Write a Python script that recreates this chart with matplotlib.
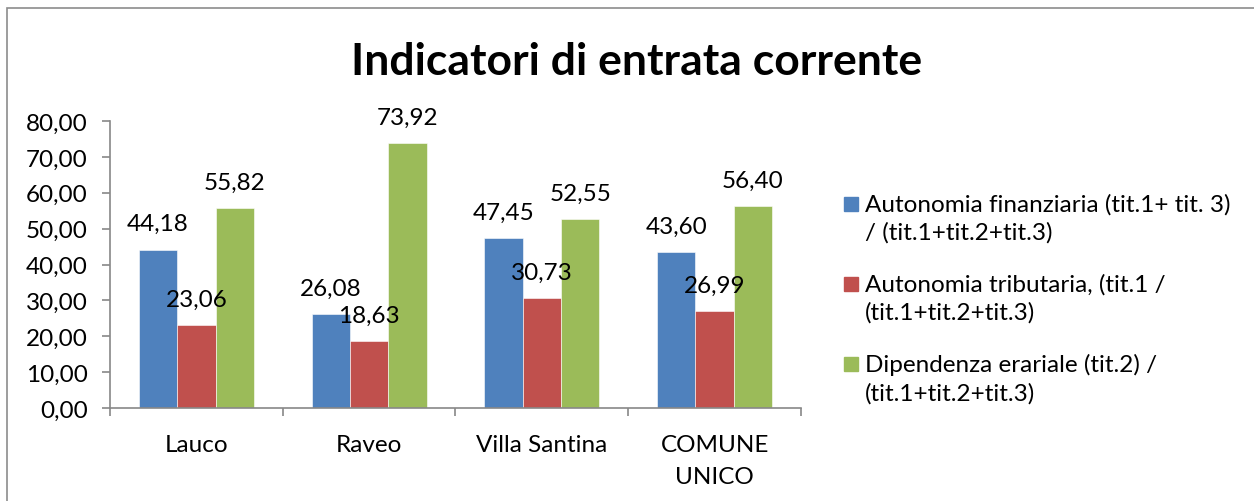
import matplotlib.pyplot as plt
from matplotlib.patches import Rectangle
import numpy as np

categories = ["Lauco", "Raveo", "Villa Santina", "COMUNE\nUNICO"]
autonomia_fin = [44.18, 26.08, 47.45, 43.60]
autonomia_trib = [23.06, 18.63, 30.73, 26.99]
dipendenza = [55.82, 73.92, 52.55, 56.40]
series_labels = [
    "Autonomia finanziaria (tit.1+ tit. 3)\n/ (tit.1+tit.2+tit.3)",
    "Autonomia tributaria, (tit.1 /\n(tit.1+tit.2+tit.3)",
    "Dipendenza erariale (tit.2) /\n(tit.1+tit.2+tit.3)",
]
colors = ["#4F81BD", "#C0504D", "#9BBB59"]

plt.rcParams["font.family"] = ["Lato", "DejaVu Sans"]
fs = 17.5

W, H = 1254, 502
fig = plt.figure(figsize=(W / 100, H / 100), dpi=100)

# cornice esterna del grafico
fig.add_artist(Rectangle((7 / W, -0.1), 1.2, 1 - 9 / H + 0.1, transform=fig.transFigure,
                         fill=False, edgecolor="#8c8c8c", linewidth=1.2))

ax = fig.add_axes([110 / W, 1 - 409 / H, (801 - 110) / W, (409 - 122) / H])

x = np.arange(len(categories))
width = 0.222
for i, (vals, c) in enumerate(zip([autonomia_fin, autonomia_trib, dipendenza], colors)):
    pos = x + (i - 1) * width
    ax.bar(pos, vals, width, color=c, edgecolor="white", linewidth=0.4)
    for p, v in zip(pos, vals):
        ax.annotate(f"{v:.2f}".replace(".", ","), (p, v), xytext=(0, 18.5),
                    textcoords="offset points", ha="center", va="center", fontsize=fs)

ax.set_xlim(-0.5, len(categories) - 0.5)
ax.set_ylim(0, 80)
ax.set_yticks(np.arange(0, 81, 10))
ax.set_yticklabels([f"{t:.2f}".replace(".", ",") for t in np.arange(0, 81, 10)], fontsize=fs)
ax.set_xticks(x)
ax.set_xticklabels(categories, fontsize=fs, linespacing=1.65)
ax.set_xticks(np.arange(-0.5, len(categories)), minor=True)
ax.tick_params(axis="x", which="major", length=0, pad=19)
ax.tick_params(axis="x", which="minor", length=6, color="#888888", width=1.2)
ax.tick_params(axis="y", length=6, color="#888888", width=1.2, pad=10)
for s in ["top", "right"]:
    ax.spines[s].set_visible(False)
for s in ["left", "bottom"]:
    ax.spines[s].set_color("#888888")
    ax.spines[s].set_linewidth(1.2)

fig.text(637 / W, 1 - 62 / H, "Indicatori di entrata corrente", ha="center", va="center",
         fontsize=32, fontweight="bold")

# legenda disegnata a mano
for k, (lab, c) in enumerate(zip(series_labels, colors)):
    yc = 205 + 80 * k
    fig.add_artist(Rectangle((844 / W, 1 - (yc + 7) / H), 14 / W, 14 / H,
                             transform=fig.transFigure, color=c))
    fig.text(865 / W, 1 - (yc - 11) / H, lab, ha="left", va="top", fontsize=fs,
             linespacing=1.4)

plt.savefig("out.png", dpi=100)
